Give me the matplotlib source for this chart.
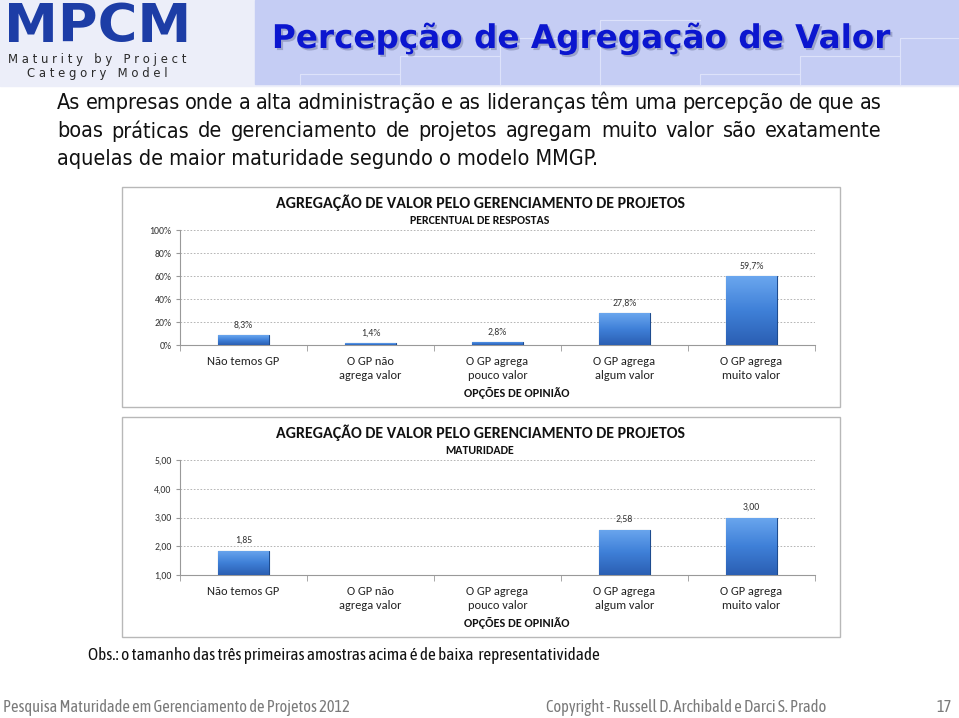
import numpy as np
import matplotlib
matplotlib.use("Agg")
import matplotlib.pyplot as plt
from matplotlib.patches import Rectangle
from matplotlib.colors import LinearSegmentedColormap
import matplotlib.patheffects as pe

# data
categories = ["Não temos GP", "O GP não\nagrega valor", "O GP agrega\npouco valor",
              "O GP agrega\nalgum valor", "O GP agrega\nmuito valor"]
percent = [8.3, 1.4, 2.8, 27.8, 59.7]
maturity = [1.85, None, None, 2.58, 3.00]
pct_ticks = [0, 20, 40, 60, 80, 100]
mat_ticks = [1, 2, 3, 4, 5]

chart_title = "AGREGAÇÃO DE VALOR PELO GERENCIAMENTO DE PROJETOS"
body = ["As empresas onde a alta administração e as lideranças têm uma percepção de que as",
        "boas práticas de gerenciamento de projetos agregam muito valor são exatamente",
        "aquelas de maior maturidade segundo o modelo MMGP."]

NARROW = ["Asap Condensed", "Archivo Narrow", "Roboto", "DejaVu Sans"]
CHART = ["Carlito", "Lato", "DejaVu Sans"]

W, H = 959, 718
fig = plt.figure(figsize=(W / 100, H / 100), dpi=100)
bg = fig.add_axes([0, 0, 1, 1], zorder=0)
bg.set_xlim(0, W)
bg.set_ylim(H, 0)
bg.axis("off")

# header band
bg.add_patch(Rectangle((0, 0), W, 86, color="#eceef9"))
bg.add_patch(Rectangle((255, 0), W - 255, 84, color="#c5cdf4"))
for i, x in enumerate(range(300, W, 100)):
    y = 84 - 18 * (i % 4) - 10
    bg.plot([x, x, x + 100], [84, y, y], color="#dde2fa", lw=0.8)
bg.text(4, 53, "MPCM", fontsize=39, fontweight="heavy", color="#1d3da6",
        family="DejaVu Sans", va="bottom")
bg.text(97, 60, "M a t u r i t y   b y   P r o j e c t", fontsize=8.4, color="#2a2a2a",
        ha="center", va="center", family="DejaVu Sans")
bg.text(97, 73, "C a t e g o r y   M o d e l", fontsize=8.4, color="#2a2a2a",
        ha="center", va="center", family="DejaVu Sans")
bg.text(581, 48, "Percepção de Agregação de Valor", fontsize=23.5, fontweight="bold",
        color="#0b16cf", ha="center", va="baseline", family="DejaVu Sans",
        path_effects=[pe.withSimplePatchShadow(offset=(1.5, -1.5), shadow_rgbFace="#8088b0", alpha=0.6)])

# body text, first two lines justified
renderer = fig.canvas.get_renderer()
x0, x1 = 57, 882
inv = bg.transData.inverted()
body_kw = dict(fontsize=15.5, family="DejaVu Sans", fontstretch="condensed", va="center", color="#111111")
for i, line in enumerate(body):
    y = 103 + 28 * i
    if i == len(body) - 1:
        bg.text(x0, y, line, **body_kw)
        continue
    words = line.split()
    objs = [bg.text(0, y, w, **body_kw) for w in words]
    widths = []
    for t in objs:
        bb = t.get_window_extent(renderer)
        widths.append(inv.transform((bb.x1, bb.y0))[0] - inv.transform((bb.x0, bb.y0))[0])
    gap = (x1 - x0 - sum(widths)) / (len(words) - 1)
    x = x0
    for t, w in zip(objs, widths):
        t.set_x(x)
        x += w + gap

# chart frames
for top in (187, 417):
    bg.add_patch(Rectangle((122, top), 718, 220, fill=False, edgecolor="#b8b8b8", lw=1))


def axes_px(left, top, right, bottom):
    return fig.add_axes([left / W, 1 - bottom / H, (right - left) / W, (bottom - top) / H], zorder=2)


def style(ax, ticks, fmt):
    ax.set_facecolor("none")
    ax.set_xlim(-0.5, 4.5)
    ax.set_yticks(ticks)
    ax.set_yticklabels([fmt(t) for t in ticks], fontsize=7, family=CHART, color="#333333")
    ax.set_xticks(range(len(categories)))
    ax.set_xticklabels(categories, fontsize=8.9, family=CHART, color="#222222", linespacing=1.3)
    ax.set_xticks(np.arange(-0.5, 5, 1), minor=True)
    ax.tick_params(axis="x", which="major", length=0, pad=8)
    ax.tick_params(axis="x", which="minor", length=4, color="#999999")
    ax.tick_params(axis="y", length=3, color="#999999", pad=3)
    for s in ("top", "right"):
        ax.spines[s].set_visible(False)
    for s in ("left", "bottom"):
        ax.spines[s].set_color("#999999")
        ax.spines[s].set_linewidth(0.8)
    ax.grid(axis="y", color="#aaaaaa", lw=0.6, linestyle=(0, (2, 2)))
    ax.set_axisbelow(True)


def headings(top, subtitle):
    bg.text(480, top + 16, chart_title, fontsize=11.5, fontweight="bold", family=CHART,
            ha="center", va="center", color="#111111")
    bg.text(480, top + 33, subtitle, fontsize=8.6, fontweight="bold", family=CHART,
            ha="center", va="center", color="#111111")
    bg.text(517, top + 206, "OPÇÕES DE OPINIÃO", fontsize=8.8, fontweight="bold", family=CHART,
            ha="center", va="center", color="#111111")


grad = LinearSegmentedColormap.from_list("bar", ["#2b5fb3", "#3f80d8", "#6aa6ee"])


def gradient_bars(ax, bars):
    for b in bars:
        x, y, w, h = b.get_x(), b.get_y(), b.get_width(), b.get_height()
        im = ax.imshow(np.linspace(0, 1, 64).reshape(-1, 1), cmap=grad, origin="lower",
                       extent=(x, x + w, y, y + h), aspect="auto", zorder=3.5)
        im.set_clip_path(b)
    ax.set_xlim(-0.5, 4.5)


bar_kw = dict(width=0.4, color="#3a78d2", edgecolor="#1d4b8e", linewidth=0.8, zorder=3)

ax1 = axes_px(180, 230, 815, 345)
style(ax1, pct_ticks, lambda t: f"{t}%")
bars = ax1.bar(range(5), percent, **bar_kw)
gradient_bars(ax1, bars)
ax1.set_ylim(0, 100)
for i, v in enumerate(percent):
    ax1.annotate(f"{v:.1f}%".replace(".", ","), (i, v), xytext=(0, 4), textcoords="offset points",
                 ha="center", va="bottom", fontsize=7, family=CHART, color="#333333")
headings(187, "PERCENTUAL DE RESPOSTAS")

ax2 = axes_px(180, 460, 815, 575)
style(ax2, mat_ticks, lambda t: f"{t:.2f}".replace(".", ","))
idx = [i for i, v in enumerate(maturity) if v is not None]
vals = [maturity[i] for i in idx]
bars = ax2.bar(idx, [v - 1 for v in vals], bottom=1, **bar_kw)
gradient_bars(ax2, bars)
ax2.set_ylim(1, 5)
for i, v in zip(idx, vals):
    ax2.annotate(f"{v:.2f}".replace(".", ","), (i, v), xytext=(0, 4), textcoords="offset points",
                 ha="center", va="bottom", fontsize=7, family=CHART, color="#333333")
headings(417, "MATURIDADE")

# notes and footer
bg.text(88, 655, "Obs.: o tamanho das três primeiras amostras acima é de baixa  representatividade",
        fontsize=12.4, family=NARROW, va="center", color="#111111")
bg.text(3, 708, "Pesquisa Maturidade em Gerenciamento de Projetos 2012", fontsize=11.8,
        family=NARROW, va="center", color="#7a7a7a")
bg.text(546, 708, "Copyright - Russell D. Archibald e Darci S. Prado", fontsize=11.9,
        family=NARROW, va="center", color="#7a7a7a")
bg.text(952, 708, "17", fontsize=11.8, family=NARROW, va="center", ha="right", color="#7a7a7a")

fig.savefig("out.png", dpi=100)
